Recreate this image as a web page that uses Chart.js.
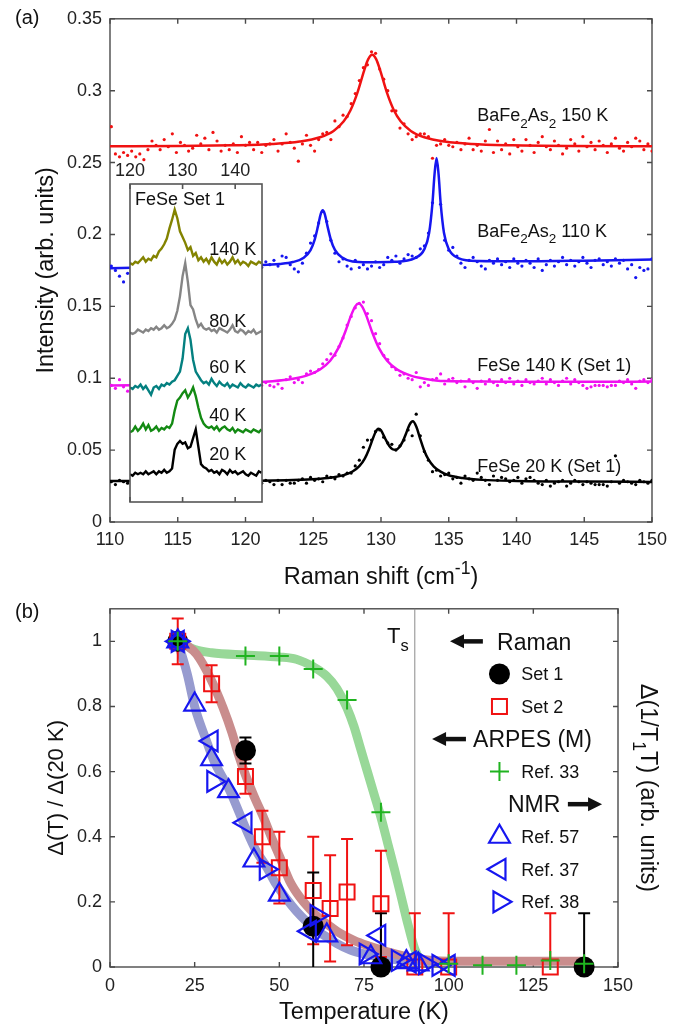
<!DOCTYPE html>
<html>
<head>
<meta charset="utf-8">
<title>Raman phonon splitting in FeSe</title>
<script src="https://cdn.jsdelivr.net/npm/chart.js@4.4.1/dist/chart.umd.min.js"></script>
<style>
  body { margin: 0; background: #fff; }
  #wrap { position: relative; width: 695px; height: 1029px; }
  canvas { position: absolute; }
</style>
</head>
<body>
<div id="wrap">
  <canvas id="spectraChart" width="695" height="590" style="left:0;top:0"></canvas>
  <canvas id="insetChart" width="180" height="360" style="left:100px;top:150px"></canvas>
  <canvas id="gapChart" width="695" height="439" style="left:0;top:590px"></canvas>
</div>
<script>
const FONT = '"Liberation Sans", Arial, Helvetica, sans-serif';
Chart.defaults.font.family = FONT;
Chart.defaults.color = '#222';

// ---------- panel (a): measured spectra on the grid 110.1 + 0.3*i (cm-1)
const shiftStart = 110.1;
const shiftStep = 0.3;

const ba150Dots = [
  0.275, 0.256, 0.254, 0.257, 0.255, 0.258, 0.254, 0.256, 0.252, 0.259,
  0.265, 0.262, 0.259, 0.266, 0.261, 0.270, 0.257, 0.264, 0.262, 0.258,
  0.260, 0.269, 0.263, 0.267, 0.259, 0.271, 0.265, 0.258, 0.262, 0.259,
  0.263, 0.257, 0.268, 0.262, 0.264, 0.259, 0.264, 0.257, 0.262, 0.263,
  0.266, 0.258, 0.263, 0.270, 0.264, 0.260, 0.251, 0.263, 0.269, 0.262,
  0.258, 0.266, 0.270, 0.271, 0.266, 0.279, 0.275, 0.283, 0.282, 0.291,
  0.298, 0.307, 0.316, 0.318, 0.327, 0.326, 0.315, 0.308, 0.300, 0.286,
  0.286, 0.274, 0.277, 0.270, 0.266, 0.268, 0.270, 0.270, 0.268, 0.253,
  0.262, 0.263, 0.266, 0.262, 0.261, 0.264, 0.259, 0.263, 0.267, 0.259,
  0.262, 0.258, 0.265, 0.273, 0.257, 0.265, 0.259, 0.263, 0.256, 0.266,
  0.261, 0.258, 0.266, 0.262, 0.257, 0.264, 0.268, 0.261, 0.259, 0.265,
  0.262, 0.256, 0.260, 0.266, 0.263, 0.258, 0.268, 0.261, 0.264, 0.259,
  0.265, 0.262, 0.257, 0.263, 0.267, 0.260, 0.258, 0.264, 0.261, 0.267,
  0.265, 0.259, 0.263, 0.258
];
const ba110Dots = [
  0.178, 0.175, 0.171, 0.167, 0.173, 0.179, 0.176, 0.181, 0.174, 0.178,
  0.176, 0.180, 0.175, 0.178, 0.182, 0.177, 0.174, 0.179, 0.176, 0.180,
  0.177, 0.175, 0.179, 0.181, 0.176, 0.178, 0.174, 0.179, 0.177, 0.180,
  0.176, 0.178, 0.181, 0.177, 0.179, 0.176, 0.180, 0.177, 0.181, 0.179,
  0.182, 0.178, 0.185, 0.184, 0.179, 0.176, 0.174, 0.180, 0.187, 0.194,
  0.199, 0.208, 0.216, 0.209, 0.196, 0.187, 0.181, 0.183, 0.178, 0.176,
  0.182, 0.177, 0.179, 0.176, 0.178, 0.181, 0.177, 0.179, 0.184, 0.182,
  0.185, 0.180, 0.183, 0.186, 0.185, 0.184, 0.190, 0.192, 0.201, 0.222,
  0.249, 0.221, 0.196, 0.189, 0.191, 0.185, 0.180, 0.177, 0.182, 0.184,
  0.181, 0.178, 0.176, 0.182, 0.180, 0.183, 0.179, 0.181, 0.177, 0.183,
  0.180, 0.178, 0.182, 0.180, 0.177, 0.183, 0.175, 0.179, 0.182, 0.178,
  0.181, 0.184, 0.179, 0.182, 0.178, 0.181, 0.184, 0.180, 0.177, 0.182,
  0.183, 0.179, 0.181, 0.178, 0.183, 0.180, 0.182, 0.176, 0.179, 0.170,
  0.177, 0.175, 0.176, 0.183
];
const fese140Dots = [
  0.095, 0.093, 0.099, 0.094, 0.091, 0.096, 0.094, 0.097, 0.095, 0.093,
  0.097, 0.095, 0.098, 0.094, 0.096, 0.099, 0.095, 0.093, 0.097, 0.096,
  0.094, 0.098, 0.095, 0.097, 0.094, 0.096, 0.099, 0.095, 0.097, 0.094,
  0.098, 0.096, 0.095, 0.098, 0.096, 0.094, 0.097, 0.095, 0.097, 0.095,
  0.094, 0.096, 0.093, 0.099, 0.101, 0.097, 0.099, 0.097, 0.103, 0.105,
  0.104, 0.106, 0.110, 0.113, 0.117, 0.116, 0.122, 0.128, 0.137, 0.143,
  0.149, 0.152, 0.153, 0.145, 0.140, 0.131, 0.124, 0.116, 0.113, 0.108,
  0.106, 0.102, 0.103, 0.100, 0.099, 0.104, 0.094, 0.097, 0.095, 0.099,
  0.100, 0.103, 0.096, 0.099, 0.100, 0.097, 0.098, 0.094, 0.099, 0.097,
  0.093, 0.098, 0.096, 0.099, 0.097, 0.095, 0.099, 0.097, 0.100, 0.096,
  0.098, 0.095, 0.099, 0.097, 0.096, 0.098, 0.100, 0.096, 0.099, 0.097,
  0.095, 0.098, 0.100, 0.096, 0.099, 0.097, 0.095, 0.093, 0.094, 0.095,
  0.095, 0.095, 0.094, 0.095, 0.095, 0.098, 0.097, 0.099, 0.096, 0.093,
  0.098, 0.099, 0.097, 0.099
];
const fese20Dots = [
  0.028, 0.026, 0.029, 0.028, 0.027, 0.029, 0.028, 0.030, 0.027, 0.029,
  0.028, 0.030, 0.027, 0.029, 0.028, 0.027, 0.030, 0.028, 0.029, 0.027,
  0.028, 0.030, 0.029, 0.027, 0.028, 0.030, 0.028, 0.027, 0.029, 0.028,
  0.030, 0.029, 0.027, 0.028, 0.030, 0.028, 0.029, 0.027, 0.029, 0.028,
  0.026, 0.029, 0.026, 0.029, 0.027, 0.027, 0.029, 0.030, 0.027, 0.031,
  0.029, 0.030, 0.028, 0.032, 0.031, 0.030, 0.033, 0.032, 0.034, 0.034,
  0.039, 0.043, 0.052, 0.057, 0.057, 0.063, 0.064, 0.059, 0.055, 0.054,
  0.050, 0.053, 0.057, 0.064, 0.060, 0.075, 0.060, 0.049, 0.043, 0.035,
  0.036, 0.032, 0.033, 0.034, 0.030, 0.031, 0.027, 0.032, 0.030, 0.029,
  0.034, 0.031, 0.029, 0.026, 0.032, 0.029, 0.031, 0.030, 0.028, 0.029,
  0.031, 0.027, 0.030, 0.031, 0.029, 0.027, 0.026, 0.029, 0.025, 0.027,
  0.028, 0.029, 0.025, 0.027, 0.029, 0.028, 0.026, 0.028, 0.027, 0.026,
  0.026, 0.026, 0.025, 0.028, 0.046, 0.027, 0.029, 0.028, 0.027, 0.026,
  0.029, 0.028, 0.027, 0.029
];

// fitted curves
const ba150FitX = [110, 115, 119, 122, 124, 125.5, 126.5, 127.25, 127.75, 128.25, 128.75, 129.05, 129.35,
  129.65, 129.95, 130.45, 130.95, 131.45, 132.2, 133.2, 134.7, 136.7, 139.7, 144, 150];
const ba150FitY = [0.2613, 0.2615, 0.262, 0.2629, 0.2646, 0.2676, 0.272, 0.2787, 0.2864, 0.2983, 0.3138, 0.3218, 0.325,
  0.3218, 0.3138, 0.2983, 0.2864, 0.2787, 0.272, 0.2676, 0.2646, 0.2629, 0.262, 0.2615, 0.2613];
const ba110FitX = [110, 115, 119, 121, 122.5, 123.5, 124.3, 124.8, 125.1, 125.35, 125.55, 125.7, 125.85, 126.05,
  126.3, 126.6, 127.1, 127.9, 129, 131, 132.5, 133.2, 133.55, 133.8, 133.95, 134.1, 134.25, 134.4, 134.65,
  135, 135.7, 137.2, 140, 145, 150];
const ba110FitY = [0.1765, 0.1774, 0.1782, 0.1787, 0.1795, 0.1808, 0.1838, 0.1891, 0.1962, 0.2058, 0.2142, 0.2168, 0.2142, 0.2058,
  0.1963, 0.1893, 0.1841, 0.1812, 0.1807, 0.181, 0.1835, 0.1898, 0.201, 0.222, 0.2418, 0.2531, 0.2418, 0.222, 0.201,
  0.1899, 0.1836, 0.1815, 0.1813, 0.18175, 0.1825];
const fese140FitX = [110, 115, 119, 122, 123.5, 124.5, 125.5, 126.25, 126.85, 127.35, 127.8, 128.1, 128.35,
  128.6, 128.9, 129.35, 129.85, 130.45, 131.2, 132.2, 133.2, 134.7, 137.7, 141.7, 146, 150];
const fese140FitY = [0.095, 0.0956, 0.0964, 0.0979, 0.0996, 0.1018, 0.1061, 0.1122, 0.1209, 0.132, 0.1439, 0.15, 0.1519,
  0.15, 0.1439, 0.132, 0.1209, 0.1122, 0.1061, 0.1018, 0.0997, 0.098, 0.0977, 0.0975, 0.0975, 0.0977];
const fese20FitX = [110, 115, 119, 122, 124, 125.5, 126.5, 127.3, 127.9, 128.4, 128.8, 129.1, 129.4, 129.6, 129.8,
  130, 130.3, 130.6, 130.85, 131.1, 131.35, 131.6, 131.85, 132.1, 132.35, 132.6, 132.9, 133.2, 133.5, 133.9,
  134.4, 135, 136, 137.5, 140, 145, 150];
const fese20FitY = [0.0285, 0.0286, 0.0287, 0.0289, 0.0294, 0.0301, 0.0311, 0.0328, 0.0351, 0.0388, 0.0441, 0.0503, 0.058, 0.0626, 0.0648,
  0.0638, 0.0582, 0.053, 0.0506, 0.0502, 0.052, 0.0559, 0.0616, 0.0676, 0.07, 0.0664, 0.0577, 0.0494, 0.0435, 0.0385,
  0.035, 0.0325, 0.0306, 0.0293, 0.0286, 0.0281, 0.0279];

// inset: FeSe Set 1, grid 120 + 0.5*i (cm-1), same intensity units as the main panel
const insetStart = 120;
const insetStep = 0.5;
const inset140K = [
  0.179, 0.178, 0.180, 0.179, 0.181, 0.183, 0.180, 0.182, 0.181, 0.184,
  0.183, 0.187, 0.189, 0.192, 0.196, 0.203, 0.209, 0.216, 0.210, 0.201,
  0.197, 0.193, 0.188, 0.190, 0.184, 0.186, 0.181, 0.183, 0.180, 0.182,
  0.179, 0.183, 0.180, 0.178, 0.182, 0.179, 0.181, 0.178, 0.180, 0.183,
  0.179, 0.181, 0.178, 0.180, 0.179, 0.177, 0.180, 0.179, 0.178, 0.180,
  0.179
];
const inset80K = [
  0.131, 0.130, 0.131, 0.133, 0.132, 0.131, 0.133, 0.132, 0.134, 0.133,
  0.135, 0.133, 0.134, 0.136, 0.134, 0.135, 0.137, 0.140, 0.146, 0.156,
  0.170, 0.179, 0.166, 0.150, 0.147, 0.140, 0.135, 0.137, 0.134, 0.133,
  0.134, 0.132, 0.133, 0.131, 0.134, 0.133, 0.132, 0.131, 0.133, 0.136,
  0.132, 0.131, 0.133, 0.132, 0.130, 0.132, 0.131, 0.133, 0.130, 0.131,
  0.132
];
const inset60K = [
  0.093, 0.092, 0.094, 0.093, 0.095, 0.092, 0.094, 0.091, 0.088, 0.093,
  0.094, 0.092, 0.095, 0.094, 0.096, 0.095, 0.097, 0.098, 0.101, 0.104,
  0.113, 0.130, 0.134, 0.126, 0.112, 0.104, 0.101, 0.098, 0.096, 0.097,
  0.095, 0.099, 0.096, 0.094, 0.097, 0.095, 0.094, 0.096, 0.093, 0.095,
  0.094, 0.093, 0.096, 0.094, 0.093, 0.095, 0.094, 0.093, 0.095, 0.094,
  0.095
];
const inset40K = [
  0.062, 0.063, 0.066, 0.063, 0.065, 0.068, 0.064, 0.067, 0.063, 0.064,
  0.066, 0.063, 0.065, 0.064, 0.066, 0.065, 0.068, 0.077, 0.084, 0.086,
  0.089, 0.091, 0.086, 0.089, 0.093, 0.087, 0.079, 0.072, 0.068, 0.066,
  0.065, 0.066, 0.064, 0.066, 0.063, 0.065, 0.066, 0.064, 0.063, 0.065,
  0.062, 0.064, 0.063, 0.062, 0.064, 0.063, 0.062, 0.064, 0.063, 0.062,
  0.064
];
const inset20K = [
  0.033, 0.032, 0.034, 0.033, 0.034, 0.033, 0.035, 0.033, 0.034, 0.035,
  0.033, 0.035, 0.034, 0.036, 0.034, 0.035, 0.037, 0.050, 0.054, 0.056,
  0.054, 0.055, 0.051, 0.052, 0.058, 0.064, 0.052, 0.040, 0.038, 0.037,
  0.035, 0.036, 0.034, 0.035, 0.033, 0.036, 0.035, 0.033, 0.036, 0.034,
  0.035, 0.033, 0.034, 0.035, 0.033, 0.032, 0.034, 0.033, 0.032, 0.035,
  0.034
];

// ---------- panel (b): normalised gap vs temperature
const structTransition = 90;   // T_s (K)

const set1T = [20, 40, 60, 80, 140];
const set1Y = [1.0, 0.665, 0.125, 0.0, 0.0];
const set1Err = [0, 0.04, 0.165, 0.165, 0.165];

const set2T = [20, 30, 40, 45, 50, 60, 65, 70, 80, 90, 100, 130];
const set2Y = [1.0, 0.87, 0.585, 0.40, 0.305, 0.235, 0.18, 0.23, 0.194, 0.0, 0.0, 0.0];
const set2Err = [0.07, 0.057, 0.053, 0.08, 0.11, 0.165, 0.163, 0.163, 0.163, 0.165, 0.165, 0.165];

const arpesT = [20, 40, 50, 60, 70, 80, 100, 110, 120, 130, 140];
const arpesY = [1.0, 0.955, 0.955, 0.915, 0.82, 0.475, 0.01, 0.005, 0.005, 0.02, 0.01];

const nmr57T = [20, 25, 30, 35, 42.5, 50, 64, 77, 87.5, 91];
const nmr57Y = [1.0, 0.806, 0.638, 0.54, 0.327, 0.222, 0.097, 0.03, 0.015, 0.008];
const nmr37T = [20, 30, 40, 59, 79.5, 88.5, 100];
const nmr37Y = [1.0, 0.694, 0.443, 0.11, 0.097, 0.015, 0.005];
const nmr38T = [20, 30.5, 46, 61, 75.5, 85, 93, 97];
const nmr38Y = [1.0, 0.57, 0.30, 0.158, 0.04, 0.02, 0.01, 0.005];

// guide-to-the-eye bands
const greenBandT = [20, 25, 30, 40, 50, 55, 60, 64, 67, 70, 72, 74, 76, 78, 80, 82, 84, 86, 88, 90, 91.5, 93, 95];
const greenBandY = [1.0, 0.975, 0.965, 0.958, 0.952, 0.945, 0.922, 0.893, 0.855, 0.795, 0.74, 0.67, 0.6, 0.53, 0.46, 0.38, 0.3, 0.215, 0.13, 0.055, 0.025, 0.018, 0.018];
const blueBandT = [20, 22.8, 25.1, 28.5, 30.7, 35.4, 40.4, 43, 46.3, 49, 52.2, 55, 58, 61, 64, 67, 71, 75, 80, 85, 90, 95];
const blueBandY = [1.0, 0.9, 0.796, 0.694, 0.633, 0.541, 0.418, 0.36, 0.306, 0.255, 0.208, 0.172, 0.14, 0.112, 0.092, 0.072, 0.052, 0.04, 0.03, 0.022, 0.018, 0.018];
const brownBandT = [20, 23, 25.6, 29.5, 33.4, 36, 38, 40, 42.5, 45.3, 48, 50.2, 53, 56, 59, 62, 65, 68, 72, 76, 80, 85, 90, 95, 100, 140];
const brownBandY = [1.0, 0.985, 0.96, 0.89, 0.796, 0.72, 0.65, 0.59, 0.525, 0.46, 0.39, 0.336, 0.265, 0.215, 0.178, 0.148, 0.125, 0.103, 0.082, 0.066, 0.053, 0.038, 0.026, 0.02, 0.018, 0.018];

// ---------- helpers
function onGrid(values, start, step) {
  return values.map((v, i) => ({ x: +(start + i * step).toFixed(2), y: v }));
}
function pairs(xs, ys) {
  return xs.map((x, i) => ({ x: x, y: ys[i] }));
}

// parts: strings or [text, 'sub'|'sup']; y is the baseline
function partsWidth(ctx, parts, size) {
  let w = 0;
  parts.forEach(p => {
    const t = typeof p === 'string' ? p : p[0];
    const small = typeof p !== 'string';
    ctx.font = (small ? size * 0.75 : size) + 'px ' + FONT;
    w += ctx.measureText(t).width;
  });
  return w;
}
function richText(ctx, parts, x, y, size, align) {
  let cx = align === 'center' ? x - partsWidth(ctx, parts, size) / 2 : x;
  ctx.textAlign = 'left';
  ctx.textBaseline = 'alphabetic';
  parts.forEach(p => {
    const t = typeof p === 'string' ? p : p[0];
    const mode = typeof p === 'string' ? null : p[1];
    ctx.font = (mode ? size * 0.75 : size) + 'px ' + FONT;
    const dy = mode === 'sub' ? size * 0.36 : mode === 'sup' ? -size * 0.42 : 0;
    ctx.fillText(t, cx, y + dy);
    cx += ctx.measureText(t).width;
  });
}

function drawFrame(chart, len) {
  const { ctx, chartArea: a, scales } = chart;
  ctx.save();
  ctx.strokeStyle = '#4a4a4a';
  ctx.lineWidth = 1.4;
  ctx.strokeRect(a.left, a.top, a.right - a.left, a.bottom - a.top);
  ctx.beginPath();
  scales.x.ticks.forEach(t => {
    const p = scales.x.getPixelForValue(t.value);
    ctx.moveTo(p, a.bottom); ctx.lineTo(p, a.bottom - len);
    ctx.moveTo(p, a.top); ctx.lineTo(p, a.top + len);
  });
  scales.y.ticks.forEach(t => {
    const p = scales.y.getPixelForValue(t.value);
    ctx.moveTo(a.left, p); ctx.lineTo(a.left + len, p);
    ctx.moveTo(a.right, p); ctx.lineTo(a.right - len, p);
  });
  ctx.stroke();
  ctx.restore();
}

function drawErrorBars(chart, xs, ys, errs, color) {
  const { ctx, chartArea: a, scales: { x, y } } = chart;
  ctx.save();
  ctx.beginPath();
  ctx.rect(a.left, a.top, a.right - a.left, a.bottom - a.top);
  ctx.clip();
  ctx.strokeStyle = color;
  ctx.lineWidth = 2;
  ctx.beginPath();
  xs.forEach((t, i) => {
    if (!errs[i]) return;
    const px = x.getPixelForValue(t);
    const hi = y.getPixelForValue(ys[i] + errs[i]);
    const lo = y.getPixelForValue(ys[i] - errs[i]);
    ctx.moveTo(px, hi); ctx.lineTo(px, lo);
    ctx.moveTo(px - 6, hi); ctx.lineTo(px + 6, hi);
    ctx.moveTo(px - 6, lo); ctx.lineTo(px + 6, lo);
  });
  ctx.stroke();
  ctx.restore();
}

function arrow(ctx, from, to, y) {
  const dir = Math.sign(to - from);
  ctx.beginPath();
  ctx.lineWidth = 4.5;
  ctx.moveTo(from, y);
  ctx.lineTo(to - dir * 10, y);
  ctx.stroke();
  ctx.beginPath();
  ctx.moveTo(to, y);
  ctx.lineTo(to - dir * 14, y - 7);
  ctx.lineTo(to - dir * 14, y + 7);
  ctx.closePath();
  ctx.fill();
}

function triangle(ctx, cx, cy, r, deg) {
  let rad = deg * Math.PI / 180;
  ctx.beginPath();
  for (let k = 0; k < 3; k++) {
    const px = cx + Math.sin(rad) * r, py = cy - Math.cos(rad) * r;
    if (k) ctx.lineTo(px, py); else ctx.moveTo(px, py);
    rad += 2 * Math.PI / 3;
  }
  ctx.closePath();
  ctx.stroke();
}

const RED = '#f01212', BLUE = '#1616f0', GREEN = '#1fb31f';
const TITLE = 23.5;

function noInteraction() {
  return { legend: { display: false }, tooltip: { enabled: false } };
}

// ---------- panel (a)
const spectraDecor = {
  id: 'spectraDecor',
  beforeDatasetsDraw(chart) { drawFrame(chart, 5); },
  afterDraw(chart) {
    const { ctx, chartArea: a, scales: { x, y } } = chart;
    ctx.save();
    ctx.fillStyle = '#111';
    richText(ctx, ['(a)'], 15, 24, 20);
    const lx = x.getPixelForValue(137.1);
    richText(ctx, ['BaFe', ['2', 'sub'], 'As', ['2', 'sub'], ' 150 K'], lx, y.getPixelForValue(0.2787), 18);
    richText(ctx, ['BaFe', ['2', 'sub'], 'As', ['2', 'sub'], ' 110 K'], lx, y.getPixelForValue(0.1985), 18);
    richText(ctx, ['FeSe 140 K (Set 1)'], lx, y.getPixelForValue(0.105), 18);
    richText(ctx, ['FeSe 20 K (Set 1)'], lx, y.getPixelForValue(0.0348), 18);
    richText(ctx, ['Raman shift (cm', ['-1', 'sup'], ')'], (a.left + a.right) / 2, 584, TITLE, 'center');
    ctx.translate(53, (a.top + a.bottom) / 2);
    ctx.rotate(-Math.PI / 2);
    richText(ctx, ['Intensity (arb. units)'], 0, 0, TITLE, 'center');
    ctx.restore();
  }
};

function dots(values, color) {
  return {
    data: onGrid(values, shiftStart, shiftStep),
    pointRadius: 1.6, pointHoverRadius: 0, pointBorderWidth: 0,
    pointBackgroundColor: color, order: 2
  };
}
function fit(xs, ys, color) {
  return {
    data: pairs(xs, ys), showLine: true, pointRadius: 0, borderColor: color,
    borderWidth: 2.5, cubicInterpolationMode: 'monotone', fill: false, order: 1
  };
}

new Chart(document.getElementById('spectraChart'), {
  type: 'scatter',
  data: {
    datasets: [
      dots(ba150Dots, RED), dots(ba110Dots, BLUE), dots(fese140Dots, '#f010f0'), dots(fese20Dots, '#000'),
      fit(ba150FitX, ba150FitY, RED), fit(ba110FitX, ba110FitY, BLUE),
      fit(fese140FitX, fese140FitY, '#f010f0'), fit(fese20FitX, fese20FitY, '#000')
    ]
  },
  options: {
    responsive: false, animation: false, events: [],
    layout: { padding: { top: 16, right: 43, left: 0, bottom: 0 } },
    plugins: noInteraction(),
    scales: {
      x: {
        type: 'linear', min: 110, max: 150,
        ticks: { stepSize: 5, padding: 7, font: { size: 18 }, maxRotation: 0, autoSkip: false },
        grid: { display: false, drawTicks: false }, border: { display: false },
        afterFit: s => { s.height = 68; }
      },
      y: {
        min: 0, max: 0.35,
        ticks: { stepSize: 0.05, padding: 8, font: { size: 18 }, autoSkip: false, callback: v => String(+v.toFixed(2)) },
        grid: { display: false, drawTicks: false }, border: { display: false },
        afterFit: s => { s.width = 110; }
      }
    }
  },
  plugins: [spectraDecor]
});

// ---------- inset
const insetDecor = {
  id: 'insetDecor',
  beforeDatasetsDraw(chart) {
    const { ctx, chartArea: a } = chart;
    ctx.save();
    ctx.fillStyle = '#fff';
    ctx.fillRect(a.left, a.top, a.right - a.left, a.bottom - a.top);
    ctx.restore();
  },
  afterDraw(chart) {
    const { ctx, chartArea: a, scales: { x, y } } = chart;
    ctx.save();
    ctx.strokeStyle = '#555';
    ctx.lineWidth = 1.6;
    ctx.strokeRect(a.left, a.top, a.right - a.left, a.bottom - a.top);
    ctx.beginPath();
    x.ticks.forEach(t => {
      const p = x.getPixelForValue(t.value);
      ctx.moveTo(p, a.bottom); ctx.lineTo(p, a.bottom - 5);
      ctx.moveTo(p, a.top); ctx.lineTo(p, a.top + 5);
    });
    ctx.stroke();
    ctx.fillStyle = '#111';
    richText(ctx, ['FeSe Set 1'], x.getPixelForValue(120.95), y.getPixelForValue(0.2192), 18);
    const tx = x.getPixelForValue(135.05);
    richText(ctx, ['140 K'], tx, y.getPixelForValue(0.1846), 18);
    richText(ctx, ['80 K'], tx, y.getPixelForValue(0.135), 18);
    richText(ctx, ['60 K'], tx, y.getPixelForValue(0.1028), 18);
    richText(ctx, ['40 K'], tx, y.getPixelForValue(0.0698), 18);
    richText(ctx, ['20 K'], tx, y.getPixelForValue(0.0429), 18);
    ctx.restore();
  }
};

function insetLine(values, color) {
  return {
    data: onGrid(values, insetStart, insetStep), showLine: true, pointRadius: 0,
    borderColor: color, borderWidth: 2.4, fill: false
  };
}

new Chart(document.getElementById('insetChart'), {
  type: 'scatter',
  data: {
    datasets: [
      insetLine(inset140K, '#838300'), insetLine(inset80K, '#858585'), insetLine(inset60K, '#048080'),
      insetLine(inset40K, '#138a13'), insetLine(inset20K, '#000')
    ]
  },
  options: {
    responsive: false, animation: false, events: [],
    layout: { padding: { left: 30, right: 18, top: 0, bottom: 8 } },
    plugins: noInteraction(),
    scales: {
      x: {
        type: 'linear', position: 'top', min: 120, max: 145.1,
        ticks: { stepSize: 10, includeBounds: false, padding: 2, font: { size: 18 }, maxRotation: 0, autoSkip: false },
        grid: { display: false, drawTicks: false }, border: { display: false },
        afterFit: s => { s.height = 34; }
      },
      y: { display: false, min: 0.0138, max: 0.2337 }
    }
  },
  plugins: [insetDecor]
});

// ---------- panel (b)
const gapDecor = {
  id: 'gapDecor',
  beforeDatasetsDraw(chart) {
    const { ctx, chartArea: a, scales: { x } } = chart;
    drawFrame(chart, 5);
    const p = x.getPixelForValue(structTransition);
    ctx.save();
    ctx.strokeStyle = '#8a8a8a';
    ctx.lineWidth = 1;
    ctx.beginPath();
    ctx.moveTo(p, a.top); ctx.lineTo(p, a.bottom);
    ctx.stroke();
    ctx.restore();
  },
  afterDatasetDraw(chart, args) {
    if (!chart.data.datasets[args.index].errorsAfter) return;
    drawErrorBars(chart, set2T, set2Y, set2Err, RED);
    drawErrorBars(chart, set1T, set1Y, set1Err, '#000');
  },
  afterDraw(chart) {
    const { ctx, chartArea: a, scales: { x, y } } = chart;
    const X = v => x.getPixelForValue(v), Y = v => y.getPixelForValue(v);
    ctx.save();
    ctx.fillStyle = '#111';
    ctx.strokeStyle = '#111';
    richText(ctx, ['(b)'], 15, 27.5, 20);
    richText(ctx, ['T', ['s', 'sub']], X(81.8), Y(0.995), 22);
    richText(ctx, ['Temperature (K)'], (a.left + a.right) / 2, 429, TITLE, 'center');

    // legend written into the plot
    const big = 23, small = 18, tx = X(121.4), mx = X(115);
    richText(ctx, ['Raman'], X(114.3), Y(1.0) + big * 0.36, big);
    arrow(ctx, X(110.1), X(100.4), Y(1.0));
    ctx.beginPath(); ctx.arc(mx, Y(0.9), 10.5, 0, 2 * Math.PI); ctx.fillStyle = '#000'; ctx.fill();
    ctx.fillStyle = '#111';
    richText(ctx, ['Set 1'], tx, Y(0.9) + small * 0.36, small);
    ctx.save(); ctx.strokeStyle = RED; ctx.lineWidth = 2; ctx.strokeRect(mx - 7.5, Y(0.8) - 7.5, 15, 15); ctx.restore();
    richText(ctx, ['Set 2'], tx, Y(0.8) + small * 0.36, small);
    richText(ctx, ['ARPES (M)'], X(107.2), Y(0.7) + big * 0.36, big);
    arrow(ctx, X(105.1), X(95.1), Y(0.7));
    ctx.save(); ctx.strokeStyle = GREEN; ctx.lineWidth = 2; ctx.beginPath();
    ctx.moveTo(mx - 9.5, Y(0.6)); ctx.lineTo(mx + 9.5, Y(0.6));
    ctx.moveTo(mx, Y(0.6) - 9.5); ctx.lineTo(mx, Y(0.6) + 9.5); ctx.stroke(); ctx.restore();
    richText(ctx, ['Ref. 33'], tx, Y(0.6) + small * 0.36, small);
    richText(ctx, ['NMR'], X(117.5), Y(0.5) + big * 0.36, big);
    arrow(ctx, X(135.2), X(145.3), Y(0.5));
    ctx.save(); ctx.strokeStyle = BLUE; ctx.lineWidth = 2.2;
    triangle(ctx, mx, Y(0.4), 12, 0);
    triangle(ctx, mx, Y(0.3), 12, 270);
    triangle(ctx, mx, Y(0.2), 12, 90);
    ctx.restore();
    richText(ctx, ['Ref. 57'], tx, Y(0.4) + small * 0.36, small);
    richText(ctx, ['Ref. 37'], tx, Y(0.3) + small * 0.36, small);
    richText(ctx, ['Ref. 38'], tx, Y(0.2) + small * 0.36, small);

    const midY = (a.top + a.bottom) / 2;
    ctx.save();
    ctx.translate(63, midY);
    ctx.rotate(-Math.PI / 2);
    richText(ctx, ['\u0394(T) / \u0394(20 K)'], 0, 0, 22, 'center');
    ctx.restore();
    ctx.save();
    ctx.translate(641, midY);
    ctx.rotate(Math.PI / 2);
    richText(ctx, ['\u0394(1/T', ['1', 'sub'], 'T) (arb. units)'], 0, 0, TITLE, 'center');
    ctx.restore();
    ctx.restore();
  }
};

function band(xs, ys, color, order) {
  return {
    data: pairs(xs, ys), showLine: true, pointRadius: 0, borderColor: color, borderWidth: 9,
    borderCapStyle: 'round', borderJoinStyle: 'round', cubicInterpolationMode: 'monotone', fill: false, order: order
  };
}
function markers(xs, ys, style, extra) {
  return Object.assign({
    data: pairs(xs, ys), pointStyle: style, pointHoverRadius: 0, clip: false
  }, extra);
}

new Chart(document.getElementById('gapChart'), {
  type: 'scatter',
  data: {
    datasets: [
      band(greenBandT, greenBandY, '#98d898', 10),
      band(blueBandT, blueBandY, '#979bcf', 9),
      Object.assign(band(brownBandT, brownBandY, '#c98d8d', 8), { errorsAfter: true }),
      markers(set1T, set1Y, 'circle', { pointRadius: 10.5, pointBackgroundColor: '#000', pointBorderColor: '#000', pointBorderWidth: 0, order: 6 }),
      markers(set2T, set2Y, 'rect', { pointRadius: 10.6, pointBackgroundColor: 'rgba(0,0,0,0)', pointBorderColor: RED, pointBorderWidth: 2, order: 5 }),
      markers(nmr57T, nmr57Y, 'triangle', { pointRadius: 12, pointBackgroundColor: 'rgba(0,0,0,0)', pointBorderColor: BLUE, pointBorderWidth: 2.2, order: 4 }),
      markers(nmr37T, nmr37Y, 'triangle', { pointRadius: 12, pointRotation: 270, pointBackgroundColor: 'rgba(0,0,0,0)', pointBorderColor: BLUE, pointBorderWidth: 2.2, order: 3 }),
      markers(nmr38T, nmr38Y, 'triangle', { pointRadius: 12, pointRotation: 90, pointBackgroundColor: 'rgba(0,0,0,0)', pointBorderColor: BLUE, pointBorderWidth: 2.2, order: 2 }),
      markers(arpesT, arpesY, 'cross', { pointRadius: 9.5, pointBorderColor: GREEN, pointBorderWidth: 2, order: 1 })
    ]
  },
  options: {
    responsive: false, animation: false, events: [],
    layout: { padding: { top: 17, right: 77, left: 0, bottom: 0 } },
    plugins: noInteraction(),
    scales: {
      x: {
        type: 'linear', min: 0, max: 150,
        ticks: { stepSize: 25, padding: 8, font: { size: 18 }, maxRotation: 0, autoSkip: false },
        grid: { display: false, drawTicks: false }, border: { display: false },
        afterFit: s => { s.height = 62; }
      },
      y: {
        min: 0, max: 1.1,
        ticks: { stepSize: 0.2, includeBounds: false, padding: 8, font: { size: 18 }, autoSkip: false, callback: v => String(+v.toFixed(1)) },
        grid: { display: false, drawTicks: false }, border: { display: false },
        afterFit: s => { s.width = 110; }
      }
    }
  },
  plugins: [gapDecor]
});
</script>
</body>
</html>
